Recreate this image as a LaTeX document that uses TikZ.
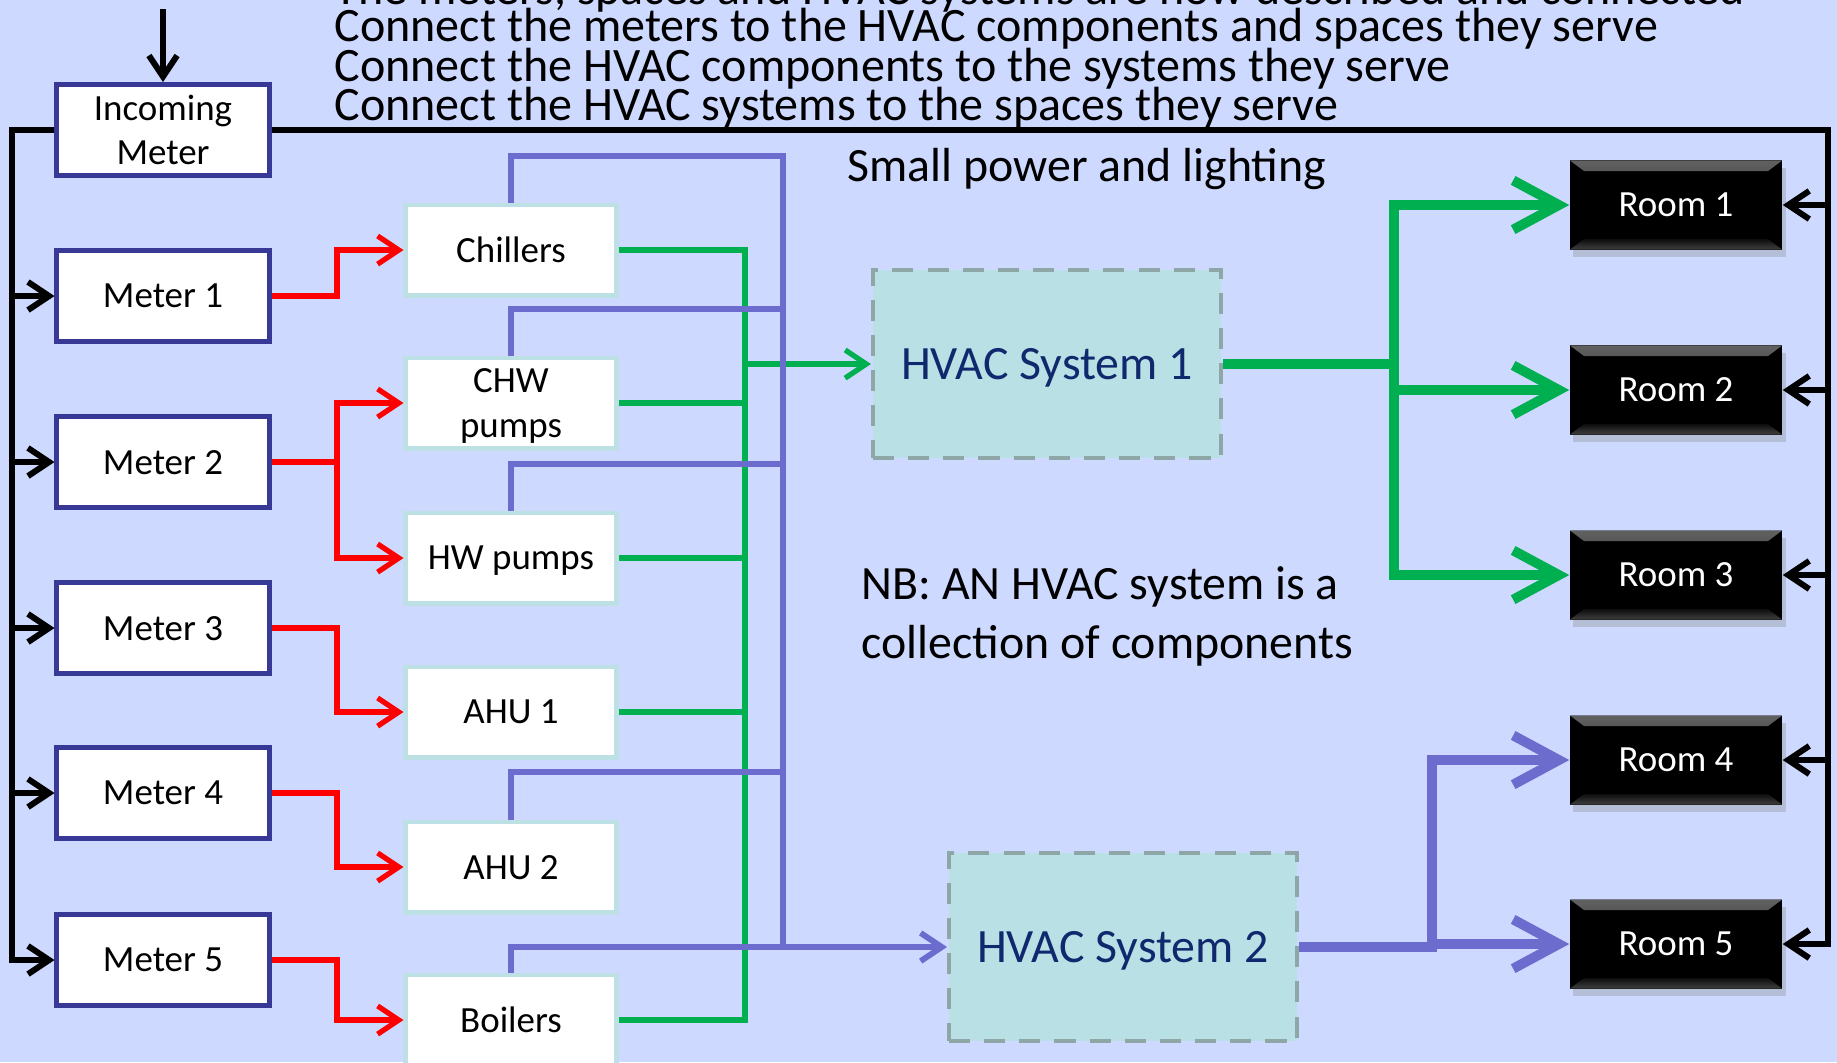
\documentclass[tikz,border=0pt]{standalone}
\usepackage{fontspec}
\setmainfont{Carlito}
\usetikzlibrary{arrows.meta,shadows}
\definecolor{bg}{RGB}{205,217,254}
\definecolor{meterblue}{RGB}{56,56,150}
\definecolor{compteal}{RGB}{188,224,228}
\definecolor{linegreen}{RGB}{0,176,80}
\definecolor{lineblue}{RGB}{108,108,207}
\definecolor{hvacfill}{RGB}{185,224,228}
\definecolor{hvacedge}{RGB}{143,166,166}
\definecolor{hvactext}{RGB}{16,40,110}
\tikzset{
  smallfont/.style={font=\fontsize{10.5}{12.6}\selectfont},
  meterbox/.style={draw=meterblue, line width=1.4pt, fill=white, minimum width=2.12cm, minimum height=0.91cm, inner sep=0pt, text depth=0pt, smallfont, align=center},
  compbox/.style={draw=compteal, line width=1.4pt, fill=white, minimum width=2.10cm, minimum height=0.90cm, inner sep=0pt, text depth=0pt, smallfont, align=center},
  hvacbox/.style={draw=hvacedge, dash pattern=on 6pt off 4pt, line width=1.1pt, fill=hvacfill, minimum width=3.48cm, minimum height=1.88cm, inner sep=0pt, text depth=0pt, text=hvactext, font=\fontsize{13.6}{16}\selectfont},
  roombox/.style={fill=black, minimum width=2.12cm, minimum height=0.89cm, inner sep=0pt, text=white, smallfont,
    drop shadow={shadow xshift=1pt, shadow yshift=-2pt, opacity=0.3},
    path picture={
      \fill[top color=black!62, bottom color=black!95]
        (path picture bounding box.north west) -- (path picture bounding box.north east)
        -- ([xshift=-4pt,yshift=-3pt]path picture bounding box.north east)
        -- ([xshift=4pt,yshift=-3pt]path picture bounding box.north west) -- cycle;
      \fill[top color=black!95, bottom color=black!75]
        (path picture bounding box.south west) -- (path picture bounding box.south east)
        -- ([xshift=-4pt,yshift=3pt]path picture bounding box.south east)
        -- ([xshift=4pt,yshift=3pt]path picture bounding box.south west) -- cycle;
    }},
  thinbarb/.style={-{Straight Barb[length=6pt,width=8pt]}},
  bigbarb/.style={-{Straight Barb[length=13pt,width=14pt]}},
  redline/.style={draw=red, line width=1.5pt},
  greenline/.style={draw=linegreen, line width=1.5pt},
  blueline/.style={draw=lineblue, line width=1.65pt},
  busline/.style={draw=black, line width=1.7pt},
  gthick/.style={draw=linegreen, line width=2.8pt},
  pthick/.style={draw=lineblue, line width=2.8pt},
  toptext/.style={anchor=base west, inner sep=0pt, font=\fontsize{13.65}{16.8}\selectfont},
  label/.style={anchor=base west, inner sep=0pt, font=\fontsize{13.6}{16.8}\selectfont},
}
\begin{document}
\begin{tikzpicture}[x=0.01cm, y=-0.01cm]
\useasboundingbox (0,0) rectangle (1837,1062);
\clip (0,0) rectangle (1837,1062);
\fill[bg] (0,0) rectangle (1837,1062);

% texts
\node[toptext] (t1) at (334,4) {The meters, spaces and HVAC systems are now described and connected};
\node[toptext] (t2) at (334,41) {Connect the meters to the HVAC components and spaces they serve};
\node[toptext] (t3) at (334,81) {Connect the HVAC components to the systems they serve};
\node[toptext] (t4) at (334,120) {Connect the HVAC systems to the spaces they serve};
\node[label] (spl) at (847,181) {Small power and lighting};
\node[label] (nb1) at (861,599) {NB: AN HVAC system is a};
\node[label] (nb2) at (861,658) {collection of components};

% meters
\node[meterbox] (inc) at (163,130) {Incoming\\Meter};
\node[meterbox] (m1) at (163,296) {Meter 1};
\node[meterbox] (m2) at (163,462) {Meter 2};
\node[meterbox] (m3) at (163,628) {Meter 3};
\node[meterbox] (m4) at (163,793) {Meter 4};
\node[meterbox] (m5) at (163,960) {Meter 5};

% components
\node[compbox] (chill) at (511,250) {Chillers};
\node[compbox] (chw) at (511,403) {CHW\\pumps};
\node[compbox] (hw) at (511,558) {HW pumps};
\node[compbox] (ahu1) at (511,712) {AHU 1};
\node[compbox] (ahu2) at (511,867) {AHU 2};
\node[compbox] (boil) at (511,1020) {Boilers};

% systems
\node[hvacbox] (hv1) at (1047,364) {HVAC System 1};
\node[hvacbox] (hv2) at (1123,947) {HVAC System 2};

% rooms
\node[roombox] (r1) at (1676,205) {Room 1};
\node[roombox] (r2) at (1676,390) {Room 2};
\node[roombox] (r3) at (1676,575) {Room 3};
\node[roombox] (r4) at (1676,760) {Room 4};
\node[roombox] (r5) at (1676,944) {Room 5};

% helper coordinates
\coordinate (src) at (163,9);
\coordinate (lbx) at (12,0);
\coordinate (rbx) at (1828,0);
\coordinate (rx) at (337,0);
\coordinate (gx) at (745,0);
\coordinate (b1) at (783,156);
\coordinate (b2) at (783,309);
\coordinate (b3) at (783,464);
\coordinate (b4) at (783,772);
\coordinate (gb) at (1394,0);
\coordinate (pb) at (1432,0);

% black supply
\draw[busline,thinbarb] (src) -- (inc.north);
\draw[busline,thinbarb] (inc.west) -| (lbx |- m5.west) -- (m5.west);
\foreach \m in {m1,m2,m3,m4} \draw[busline,thinbarb] (lbx |- \m.west) -- (\m.west);
\draw[busline,thinbarb] (inc.east) -| (rbx |- r5.east) -- (r5.east);
\foreach \r in {r1,r2,r3,r4} \draw[busline,thinbarb] (rbx |- \r.east) -- (\r.east);

% red meter links
\draw[redline,thinbarb] (m1.east) -- (m1.east -| rx) |- (chill.west);
\draw[redline,thinbarb] (m2.east) -- (m2.east -| rx) |- (chw.west);
\draw[redline,thinbarb] (m2.east -| rx) |- (hw.west);
\draw[redline,thinbarb] (m3.east) -- (m3.east -| rx) |- (ahu1.west);
\draw[redline,thinbarb] (m4.east) -- (m4.east -| rx) |- (ahu2.west);
\draw[redline,thinbarb] (m5.east) -- (m5.east -| rx) |- (boil.west);

% green component links
\draw[greenline] (chill.east) -- (chill.east -| gx) -- (boil.east -| gx) -- (boil.east);
\foreach \c in {chw,hw,ahu1} \draw[greenline] (\c.east) -- (\c.east -| gx);
\draw[greenline,thinbarb] (gx |- hv1.west) -- (hv1.west);

% blue component links
\draw[blueline] (chill.north) |- (b1) -- (b1 |- hv2.west);
\draw[blueline] (chw.north) |- (b2);
\draw[blueline] (hw.north) |- (b3);
\draw[blueline] (ahu2.north) |- (b4);
\draw[blueline,thinbarb] (boil.north) |- (hv2.west);

% systems to rooms
\draw[gthick,bigbarb] (hv1.east) -| (gb |- r1.west) -- (r1.west);
\draw[gthick,bigbarb] (hv1.east) -| (gb |- r3.west) -- (r3.west);
\draw[gthick,bigbarb] (gb |- r2.west) -- (r2.west);
\draw[pthick,bigbarb] (hv2.east) -| (pb |- r4.west) -- (r4.west);
\draw[pthick,bigbarb] (pb |- r5.west) -- (r5.west);
\end{tikzpicture}
\end{document}
